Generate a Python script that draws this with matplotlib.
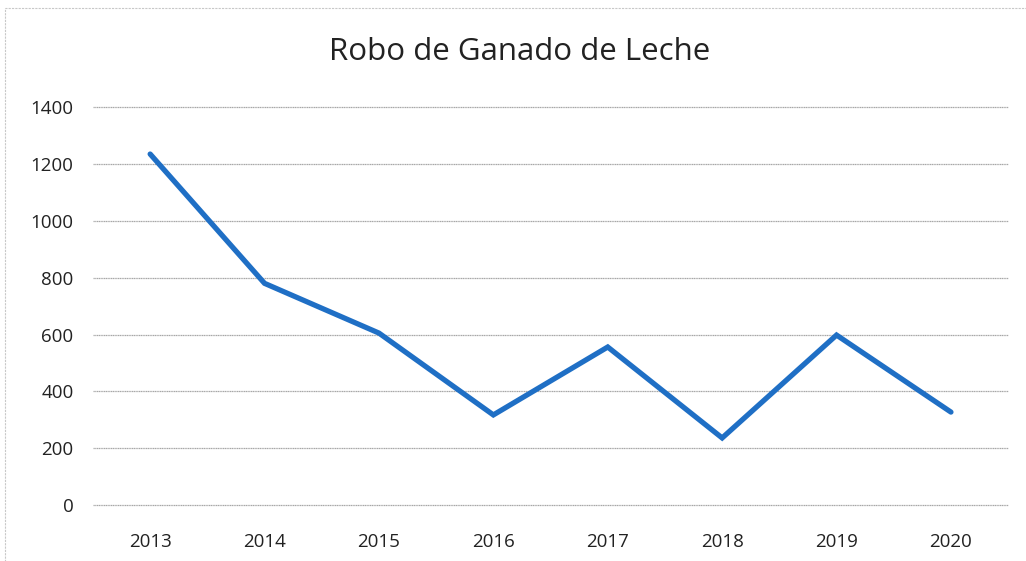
import matplotlib
matplotlib.use("Agg")
import matplotlib.pyplot as plt
from matplotlib.patches import Rectangle

# Data
years = ["2013", "2014", "2015", "2016", "2017", "2018", "2019", "2020"]
robos = [1235, 780, 605, 317, 556, 236, 598, 327]
y_ticks = [0, 200, 400, 600, 800, 1000, 1200, 1400]

plt.rcParams['font.family'] = ['Open Sans', 'DejaVu Sans']

fig = plt.figure(figsize=(10.26, 5.61), dpi=100)
ax = fig.add_axes([0.0906, 0.0998, 0.892, 0.7092])

x = list(range(len(years)))
ax.plot(x, robos, color='#1f6fc5', linewidth=3.8, solid_capstyle='round',
        solid_joinstyle='miter', zorder=3)

ax.set_xlim(-0.5, len(years) - 0.5)
ax.set_ylim(0, 1400)
ax.set_xticks(x)
ax.set_xticklabels(years)
ax.set_yticks(y_ticks)
ax.grid(axis='y', color='#a8a8a8', linewidth=0.9, linestyle=(0, (1, 0.4)))
for gl in ax.get_ygridlines():
    gl.set_clip_on(False)
ax.set_axisbelow(True)
for s in ax.spines.values():
    s.set_visible(False)
ax.tick_params(length=0, labelsize=13.5, colors='#222222')
ax.tick_params(axis='y', pad=14)
ax.tick_params(axis='x', pad=20)

fig.text(0.506, 0.907, "Robo de Ganado de Leche", ha='center', va='center',
         fontsize=22.5, color='#222222')

# faint chart border
fig.patches.append(Rectangle((0.005, -0.05), 1.2, 1.036, transform=fig.transFigure,
                             fill=False, edgecolor='#c8c8c8', linewidth=0.8,
                             linestyle=(0, (2, 1))))

fig.savefig("out.png", dpi=100)
